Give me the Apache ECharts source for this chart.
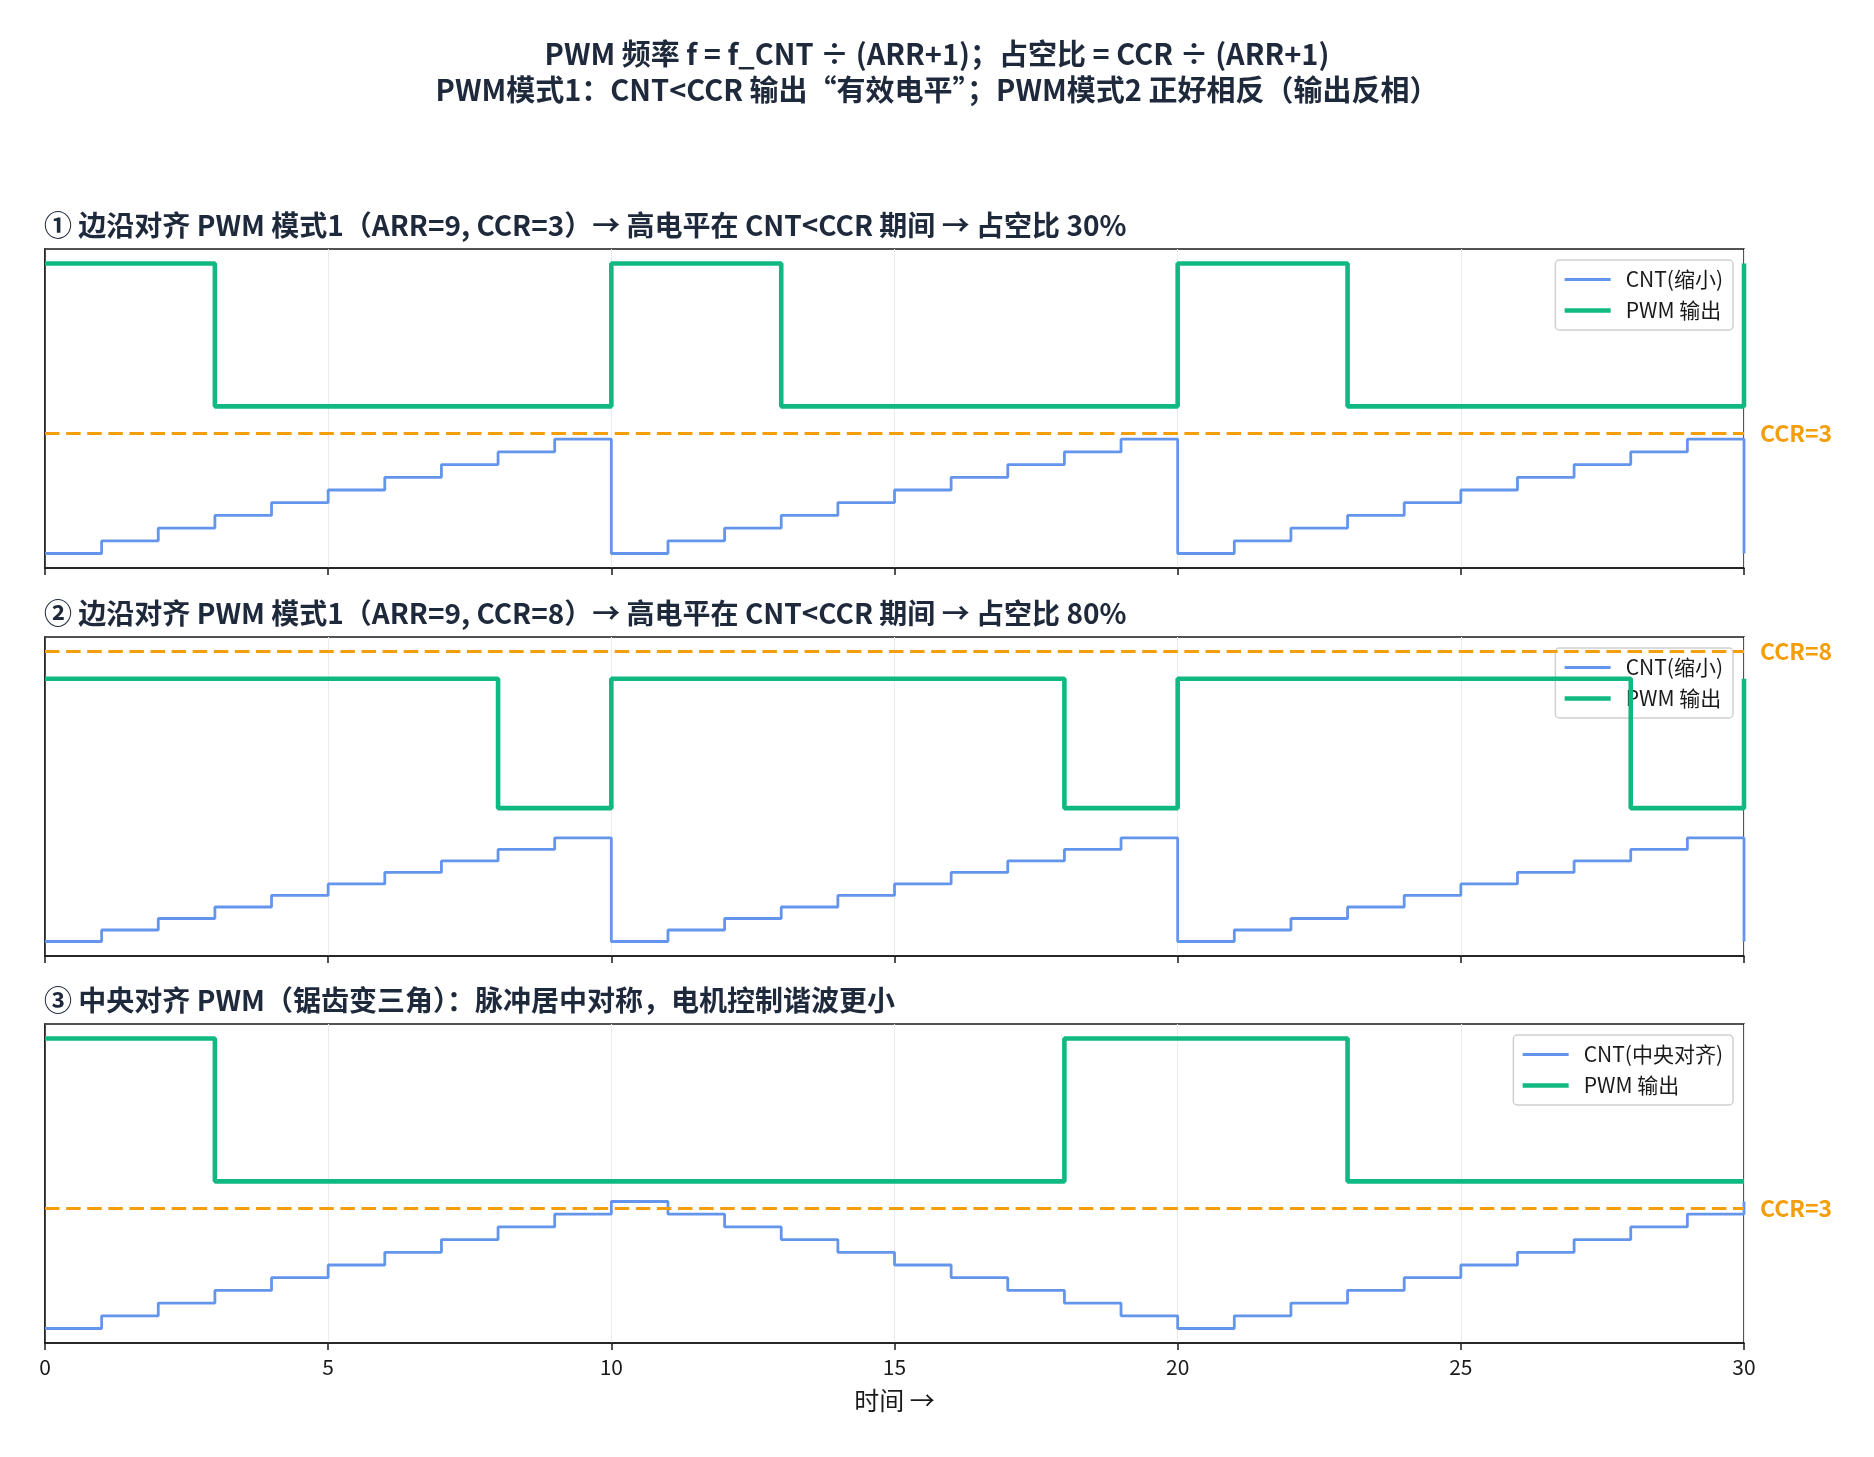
<!DOCTYPE html>
<html>
<head>
<meta charset="utf-8">
<script src="https://cdn.jsdelivr.net/npm/echarts@6/dist/echarts.min.js"></script>
<style>
  html, body { margin: 0; padding: 0; background: #fff; }
  #main { width: 1874px; height: 1457px; }
</style>
</head>
<body>
<div id="main"></div>
<script>
// 时间轴（每个计数周期 1 格）
var timeTicks = [0, 1, 2, 3, 4, 5, 6, 7, 8, 9, 10, 11, 12, 13, 14, 15, 16, 17, 18, 19, 20,
    21, 22, 23, 24, 25, 26, 27, 28, 29, 30];
var xTickLabels = ['0', '5', '10', '15', '20', '25', '30'];

// 边沿对齐：CNT 0..ARR 循环
var cntEdge = [0, 1, 2, 3, 4, 5, 6, 7, 8, 9, 0, 1, 2, 3, 4, 5, 6, 7, 8, 9,
    0, 1, 2, 3, 4, 5, 6, 7, 8, 9, 0];
// CCR=3 的 PWM 输出
var pwmCcr3 = [1, 1, 1, 0, 0, 0, 0, 0, 0, 0, 1, 1, 1, 0, 0, 0, 0, 0, 0, 0,
    1, 1, 1, 0, 0, 0, 0, 0, 0, 0, 1];
// CCR=8 的 PWM 输出
var pwmCcr8 = [1, 1, 1, 1, 1, 1, 1, 1, 0, 0, 1, 1, 1, 1, 1, 1, 1, 1, 0, 0,
    1, 1, 1, 1, 1, 1, 1, 1, 0, 0, 1];
// 中央对齐：CNT 先加后减
var cntCenter = [0, 1, 2, 3, 4, 5, 6, 7, 8, 9, 10, 9, 8, 7, 6, 5, 4, 3, 2, 1,
    0, 1, 2, 3, 4, 5, 6, 7, 8, 9, 10];
var pwmCenter = [1, 1, 1, 0, 0, 0, 0, 0, 0, 0, 0, 0, 0, 0, 0, 0, 0, 0, 1, 1,
    1, 1, 1, 0, 0, 0, 0, 0, 0, 0, 0];

var ARR = 9;
var ccrValues = [3, 8, 3];

var titleLines = ['PWM 频率 f = f_CNT ÷ (ARR+1)；占空比 = CCR ÷ (ARR+1)',
    'PWM模式1：CNT<CCR 输出“有效电平”；PWM模式2 正好相反（输出反相）'];
var panelTitles = [
    '① 边沿对齐 PWM 模式1（ARR=9, CCR=3）→ 高电平在 CNT<CCR 期间 → 占空比 30%',
    '② 边沿对齐 PWM 模式1（ARR=9, CCR=8）→ 高电平在 CNT<CCR 期间 → 占空比 80%',
    '③ 中央对齐 PWM（锯齿变三角）：脉冲居中对称，电机控制谐波更小'
];
var cntNames = ['CNT(缩小)', 'CNT(缩小)', 'CNT(中央对齐)'];
var pwmName = 'PWM 输出';

// 画面上的缩放：CNT 缩小到 0~0.8，PWM 抬高到 CNT 上方
var CNT_SCALE = 0.8 / ARR;
var PWM_BASE = 1.03;
var CCR_SCALE = 0.28;

var FONT = '"Noto Sans CJK SC", "Noto Sans", sans-serif';
var C_CNT = '#6495ed';
var C_PWM = '#10b981';
var C_CCR = '#f59e0b';
var C_TEXT = '#1e293b';
var C_AXIS = '#1a1a1a';

var gridTops = [249, 637, 1024];
var gridH = 319;
var W_CNT = 2.8, W_PWM = 4.6;

var cntSets = [cntEdge, cntEdge, cntCenter];
var pwmSets = [pwmCcr3, pwmCcr8, pwmCenter];

function pairs(vals, scale, base) {
    return timeTicks.map(function (t, i) { return [t, vals[i] * scale + base]; });
}

var option = {
    backgroundColor: '#fff',
    animation: false,
    textStyle: { fontFamily: FONT },
    title: [],
    grid: [],
    xAxis: [],
    yAxis: [],
    legend: [],
    series: []
};

option.title.push({
    text: titleLines.join('\n'),
    left: 'center',
    top: 36,
    padding: 0,
    textStyle: { fontSize: 29, fontWeight: 'bold', color: C_TEXT, lineHeight: 36, fontFamily: FONT }
});

for (var i = 0; i < 3; i++) {
    var ymax = Math.max(PWM_BASE + 1, ccrValues[i] * CCR_SCALE);
    var pad = ymax * 0.05;
    var last = i === 2;

    option.title.push({
        text: panelTitles[i],
        left: 44,
        top: gridTops[i] - 38,
        padding: 0,
        textStyle: { fontSize: 28, fontWeight: 'bold', color: C_TEXT, lineHeight: 28, fontFamily: FONT }
    });

    option.grid.push({
        left: 45, right: 130, top: gridTops[i], height: gridH,
        show: true, borderColor: C_AXIS, borderWidth: 1.5, backgroundColor: 'transparent'
    });

    option.xAxis.push({
        type: 'value', gridIndex: i, min: 0, max: 30, interval: 5,
        axisLine: { show: true, onZero: false, lineStyle: { color: C_AXIS, width: 1.5 } },
        axisTick: { show: true, inside: false, length: 7, lineStyle: { color: C_AXIS, width: 1.5 } },
        axisLabel: {
            show: last, fontSize: 21, color: C_AXIS, margin: 14, fontFamily: FONT,
            formatter: function (v) { return xTickLabels[v / 5]; }
        },
        splitLine: { show: true, lineStyle: { color: '#ebebeb', width: 1 } },
        name: last ? '时间 →' : '',
        nameLocation: 'middle',
        nameGap: 45,
        nameTextStyle: { fontSize: 25, color: C_AXIS, fontFamily: FONT }
    });

    option.yAxis.push({
        type: 'value', gridIndex: i, min: -pad, max: ymax + pad,
        axisLine: { show: true, onZero: false, lineStyle: { color: C_AXIS, width: 1.5 } },
        axisTick: { show: false }, axisLabel: { show: false }, splitLine: { show: false }
    });

    option.series.push({
        name: cntNames[i], type: 'line', step: 'end', symbol: 'none',
        xAxisIndex: i, yAxisIndex: i,
        data: pairs(cntSets[i], CNT_SCALE, 0),
        lineStyle: { color: C_CNT, width: W_CNT },
        itemStyle: { color: C_CNT },
        z: 3
    });

    option.series.push({
        name: pwmName, type: 'line', step: 'end', symbol: 'none',
        xAxisIndex: i, yAxisIndex: i,
        data: pairs(pwmSets[i], 1, PWM_BASE),
        lineStyle: { color: C_PWM, width: W_PWM },
        itemStyle: { color: C_PWM },
        z: 4,
        markLine: {
            silent: true, symbol: 'none', animation: false,
            lineStyle: { color: C_CCR, type: [14.5, 6.6], width: 3.2 },
            label: {
                show: true, position: 'end', distance: 16,
                formatter: 'CCR=' + ccrValues[i],
                color: C_CCR, fontSize: 23, fontWeight: 'bold', fontFamily: FONT
            },
            data: [{ yAxis: ccrValues[i] * CCR_SCALE }]
        }
    });

    option.legend.push({
        data: [
            { name: cntNames[i], lineStyle: { width: W_CNT, color: C_CNT } },
            { name: pwmName, lineStyle: { width: W_PWM, color: C_PWM } }
        ],
        orient: 'vertical',
        right: 141,
        top: gridTops[i] + 11,
        itemWidth: 46, itemHeight: 14, itemGap: 10,
        padding: [9, 10, 9, 7],
        backgroundColor: 'rgba(255,255,255,0.8)',
        borderColor: '#d0d0d0', borderWidth: 1.5, borderRadius: 4,
        selectedMode: false,
        itemStyle: { opacity: 0, borderWidth: 0 },
        textStyle: { fontSize: 21, color: C_AXIS, fontFamily: FONT, padding: [0, 0, 0, 10] }
    });
}

var chart = echarts.init(document.getElementById('main'));
chart.setOption(option);
</script>
</body>
</html>
